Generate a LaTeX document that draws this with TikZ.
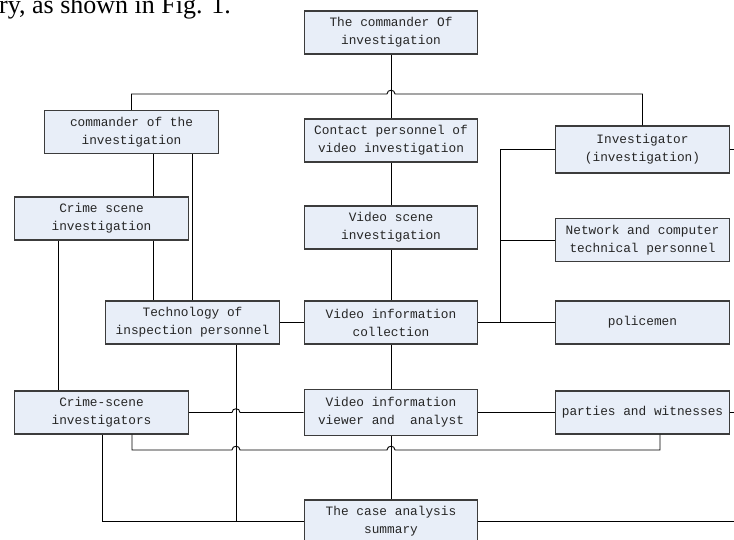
\documentclass[tikz,border=0pt]{standalone}
\usepackage{fontspec}
\setmainfont{Liberation Serif}
\newfontfamily\boxfont{Liberation Mono}
\definecolor{boxfill}{HTML}{E8EEF8}
\definecolor{boxline}{HTML}{3C3C3C}
\begin{document}
\begin{tikzpicture}[x=1pt,y=-1pt,
  box/.style={draw=boxline, line width=1.1pt, fill=boxfill, minimum width=173.5pt,
    minimum height=43pt, inner sep=0pt, align=center,
    font=\boxfont\fontsize{12.8}{18}\selectfont, text=black!85},
  conn/.style={draw=black, line width=0.9pt}]
\useasboundingbox (0,0) rectangle (734,539);
\clip (0,0) rectangle (734,539);
\node[anchor=base west, font=\fontsize{26}{30}\selectfont, inner sep=0pt] (caption) at (-1,13) {ry, as shown in Fig. 1.};

\node[box] (top) at (391,32.5) {The commander Of\\investigation};
\node[box] (cmd) at (131.5,132) {commander of the\\investigation};
\node[box] (contact) at (391,140.5) {Contact personnel of\\video investigation};
\node[box, minimum height=47pt] (inv) at (642.5,149.5) {Investigator\\(investigation)};
\node[box] (csi) at (101.5,218.5) {Crime scene\\investigation};
\node[box] (vsi) at (391,227.5) {Video scene\\investigation};
\node[box] (net) at (642.5,240) {Network and computer\\technical personnel};
\node[box] (tech) at (192.5,322.5) {Technology of\\inspection personnel};
\node[box] (vic) at (391,322.5) {Video information\\collection};
\node[box] (police) at (642.5,322.5) {policemen};
\node[box] (csinv) at (101.5,412.5) {Crime-scene\\investigators};
\node[box, minimum height=46pt] (viewer) at (391,412.5) {Video information\\viewer and~~analyst};
\node[box] (parties) at (642.5,412.5) {parties and witnesses};
\node[box] (summary) at (391,521.5) {The case analysis\\summary};

\coordinate (rA) at (734,149.5);
\coordinate (rB) at (734,412.5);
\coordinate (rC) at (734,521.5);

\draw[conn] (top.south) -- (contact.north);
\draw[conn] (cmd.north) -- (cmd.north |- 0,94) -- (387,94) .. controls (387,89) and (395,89) .. (395,94) -- (inv.north |- 0,94) -- (inv.north);
\draw[conn] (cmd.south -| 153,0) -- (csi.north -| 153,0);
\draw[conn] (cmd.south -| 192,0) -- (tech.north -| 192,0);
\draw[conn] (csi.south -| 153,0) -- (tech.north -| 153,0);
\draw[conn] (csi.south -| 58,0) -- (csinv.north -| 58,0);
\draw[conn] (contact.south) -- (vsi.north);
\draw[conn] (vsi.south) -- (vic.north);
\draw[conn] (tech.east) -- (vic.west);
\draw[conn] (vic.east) -- (police.west);
\draw[conn] (inv.west) -- (inv.west -| 500,0) -- (vic.east -| 500,0);
\draw[conn] (net.west -| 500,0) -- (net.west);
\draw[conn] (vic.south) -- (viewer.north);
\draw[conn] (viewer.south) -- (summary.north);
\draw[conn] (csinv.east) -- (232,412.5) .. controls (232,407.5) and (240,407.5) .. (240,412.5) -- (viewer.west);
\draw[conn] (viewer.east) -- (parties.west);
\draw[conn] (parties.east) -- (rB);
\draw[conn] (inv.east) -- (rA);
\draw[conn] (summary.east) -- (rC);
\draw[conn] (csinv.south -| 132,0) -- (132,450) -- (232,450) .. controls (232,445) and (240,445) .. (240,450) -- (387,450) .. controls (387,445) and (395,445) .. (395,450) -- (660,450) -- (parties.south -| 660,0);
\draw[conn] (csinv.south -| 102,0) -- (102,521.5) -- (summary.west);
\draw[conn] (tech.south -| 236,0) -- (236,521.5);
\end{tikzpicture}
\end{document}
